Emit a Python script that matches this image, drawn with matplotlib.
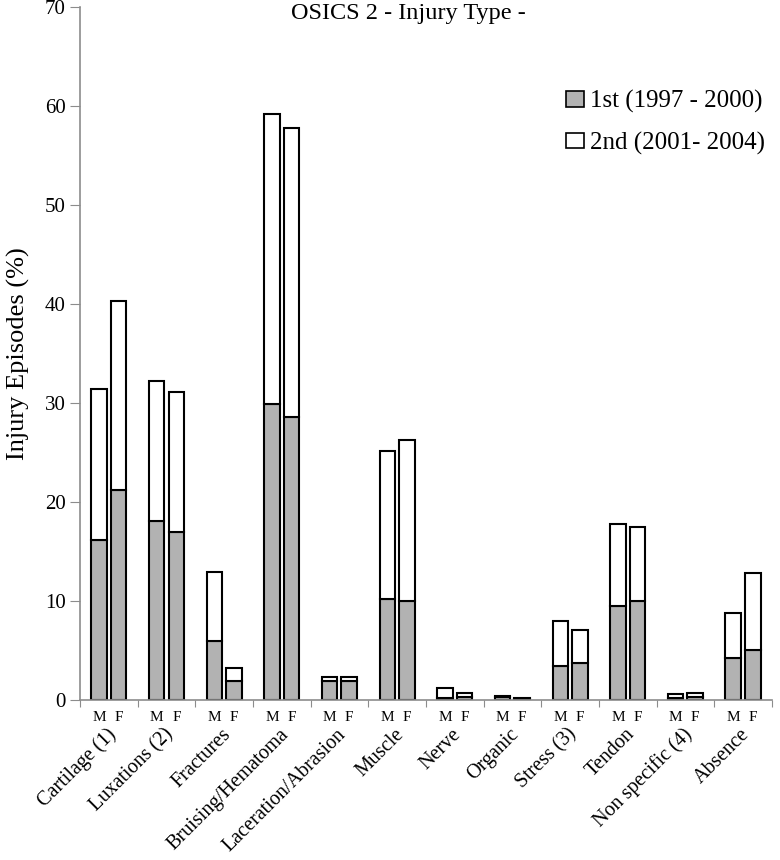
import numpy as np
import matplotlib
matplotlib.use("Agg")
import matplotlib.pyplot as plt
import matplotlib.transforms as mtransforms
from matplotlib.patches import Patch

plt.rcParams["font.family"] = ["Liberation Serif", "DejaVu Serif"]

# Data
categories = ["Cartilage (1)", "Luxations (2)", "Fractures", "Bruising/Hematoma",
              "Laceration/Abrasion", "Muscle", "Nerve", "Organic", "Stress (3)",
              "Tendon", "Non specific (4)", "Absence"]
first_m = [16.2, 18.1, 6.0, 29.9, 1.9, 10.2, 0.2, 0.3, 3.4, 9.5, 0.2, 4.2]
total_m = [31.4, 32.2, 12.9, 59.2, 2.3, 25.2, 1.2, 0.4, 8.0, 17.8, 0.6, 8.8]
first_f = [21.2, 17.0, 1.9, 28.6, 1.9, 10.0, 0.3, 0.15, 3.7, 10.0, 0.3, 5.1]
total_f = [40.3, 31.1, 3.2, 57.8, 2.3, 26.3, 0.7, 0.2, 7.1, 17.5, 0.7, 12.8]

second_m = np.array(total_m) - np.array(first_m)
second_f = np.array(total_f) - np.array(first_f)

grey = "#b2b2b2"
spine = "#8c8c8c"

fig = plt.figure(figsize=(7.8, 8.6), dpi=100)
ax = fig.add_axes([0.1026, 0.186, 0.887, 0.806])

x = np.arange(len(categories)) + 0.5
w = 0.27
off = 0.17
for xs, first, second in [(x - off, first_m, second_m), (x + off, first_f, second_f)]:
    ax.bar(xs, first, width=w, color=grey, edgecolor="black", linewidth=1.5)
    ax.bar(xs, second, bottom=first, width=w, color="white", edgecolor="black", linewidth=1.5)

ax.set_xlim(0, len(categories))
ax.set_ylim(0, 70)
ax.set_yticks(np.arange(0, 71, 10))
ax.set_xticks(np.arange(len(categories) + 1))
ax.set_xticklabels([])
ax.tick_params(axis="y", direction="out", length=7, color=spine, labelsize=15)
ax.tick_params(axis="x", direction="out", length=5, color=spine)
for s in ["top", "right"]:
    ax.spines[s].set_visible(False)
for s in ["left", "bottom"]:
    ax.spines[s].set_color(spine)
    ax.spines[s].set_linewidth(1.2)

ax.set_ylabel("Injury Episodes (%)", fontsize=19)
ax.yaxis.set_label_coords(-0.072, 0.5)

trans = mtransforms.blended_transform_factory(ax.transData, ax.transAxes)
for xi in x:
    ax.text(xi - off, -0.025, "M", transform=trans, ha="center", va="center", fontsize=11)
    ax.text(xi + off, -0.025, "F", transform=trans, ha="center", va="center", fontsize=11)
for xi, cat in zip(x, categories):
    ax.text(xi - 0.05, -0.036, cat, transform=trans, ha="right", va="top",
            rotation=45, rotation_mode="anchor", fontsize=14.5)

fig.text(408 / 780, 1 - 13 / 860, "OSICS 2 - Injury Type -", ha="center", va="center", fontsize=17.5)

handles = [Patch(facecolor=grey, edgecolor="black", linewidth=1.2, label="1st (1997 - 2000)"),
           Patch(facecolor="white", edgecolor="black", linewidth=1.2, label="2nd (2001- 2004)")]
ax.legend(handles=handles, loc="upper right", bbox_to_anchor=(1.012, 0.902), frameon=False,
          fontsize=18, handlelength=0.72, handleheight=0.6, handletextpad=0.25,
          labelspacing=0.75, borderaxespad=0.2)

fig.savefig("out.png", dpi=100)
